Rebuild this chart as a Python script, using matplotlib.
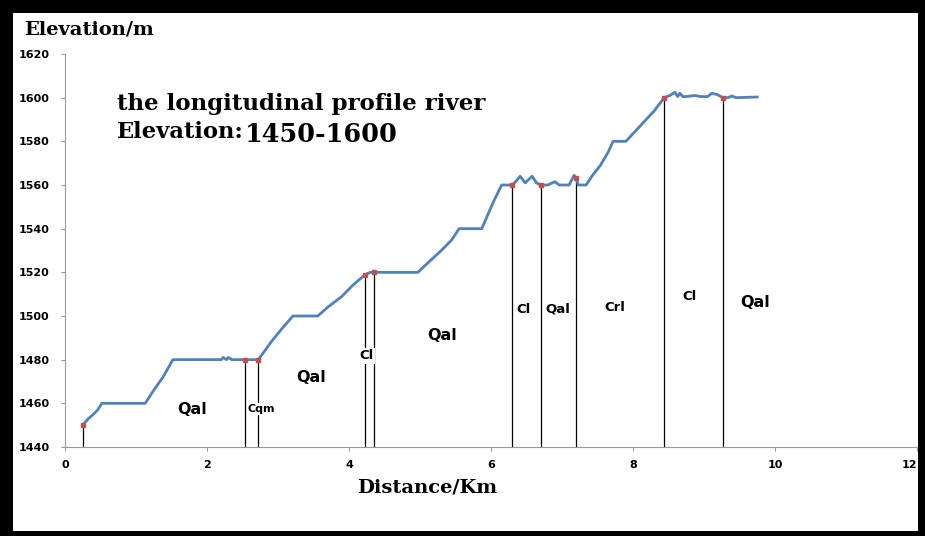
import matplotlib
matplotlib.use("Agg")
import matplotlib.pyplot as plt
from matplotlib.patches import Rectangle

# ---- data ----
distance_km = [0.25, 0.33, 0.40, 0.46, 0.52, 0.80, 1.00, 1.13, 1.25, 1.38, 1.45, 1.52,
               2.00, 2.20, 2.23, 2.27, 2.30, 2.35, 2.54, 2.72, 2.79, 2.90, 3.05, 3.21,
               3.56, 3.70, 3.90, 4.05, 4.23, 4.30, 4.35, 4.97, 5.10, 5.30, 5.45, 5.55,
               5.87, 5.95, 6.03, 6.15, 6.30, 6.36, 6.41, 6.48, 6.58, 6.64, 6.70, 6.80,
               6.90, 6.96, 7.10, 7.17, 7.20, 7.23, 7.34, 7.42, 7.54, 7.65, 7.72, 7.90,
               8.10, 8.30, 8.44, 8.52, 8.59, 8.63, 8.66, 8.70, 8.75, 8.87, 8.95, 9.05,
               9.11, 9.18, 9.27, 9.34, 9.39, 9.45, 9.75]
elevation_m = [1450, 1453, 1455, 1457, 1460, 1460, 1460, 1460, 1466, 1472, 1476, 1480,
               1480, 1480, 1481, 1480, 1481, 1480, 1480, 1480, 1483, 1488, 1494, 1500,
               1500, 1504, 1509, 1514, 1519, 1520, 1520, 1520, 1524, 1530, 1535, 1540,
               1540, 1546, 1552, 1560, 1560, 1562, 1564, 1561, 1564, 1561, 1560, 1560,
               1561.5, 1560, 1560, 1564.5, 1563, 1560, 1560, 1564, 1569, 1575, 1580, 1580,
               1587, 1594, 1600, 1601, 1602.5, 1600.5, 1602, 1600.5, 1600.5, 1601, 1600.5, 1600.5,
               1602, 1601.5, 1600, 1600, 1600.8, 1600, 1600.3]

boundary_km = [0.25, 2.54, 2.72, 4.23, 4.35, 6.30, 6.70, 7.20, 8.44, 9.27]
boundary_elev = [1450, 1480, 1480, 1519, 1520, 1560, 1560, 1563, 1600, 1600]

unit_labels = ["Qal", "Cqm", "Qal", "Cl", "Qal", "Cl", "Qal", "Crl", "Cl", "Qal"]
unit_x = [1.79, 2.77, 3.46, 4.24, 5.31, 6.46, 6.94, 7.75, 8.79, 9.72]
unit_y = [1457.4, 1457.4, 1472, 1481.7, 1491, 1502.8, 1503, 1504, 1509, 1506]
unit_size = [11.5, 8, 11.5, 9.5, 11.5, 9.5, 9.5, 9.5, 9.5, 11.5]

x_ticks = [0, 2, 4, 6, 8, 10, 12]
y_ticks = [1440, 1460, 1480, 1500, 1520, 1540, 1560, 1580, 1600, 1620]

# ---- figure ----
W, H = 925, 536
fig = plt.figure(figsize=(W / 100, H / 100), dpi=100)
fig.patch.set_facecolor("black")
fig.add_artist(Rectangle((13 / W, 1 - 531 / H), (918 - 13) / W, (531 - 13) / H,
                         transform=fig.transFigure, facecolor="white",
                         edgecolor="none", zorder=0))

ax = fig.add_axes([65 / W, 1 - 447 / H, (917 - 65) / W, (447 - 54) / H])
ax.set_facecolor("none")

for xb, yb in zip(boundary_km, boundary_elev):
    ax.plot([xb, xb], [1440, yb], color="black", lw=0.9, zorder=2)

ax.plot(distance_km, elevation_m, color="#4f81bd", lw=2.0, zorder=3,
        solid_joinstyle="round")
ax.plot(boundary_km, boundary_elev, ls="none", marker="s", ms=3.2,
        color="#c0504d", zorder=4)

for lab, xl, yl, s in zip(unit_labels, unit_x, unit_y, unit_size):
    ax.text(xl, yl, lab, ha="center", va="center", fontsize=s,
            fontweight="bold", family="DejaVu Sans", zorder=5,
            bbox=dict(facecolor="white", edgecolor="none", pad=1.0))

ax.set_xlim(0, 12)
ax.set_ylim(1440, 1620)
ax.set_xticks(x_ticks)
ax.set_yticks(y_ticks)
for sp in ["top", "right"]:
    ax.spines[sp].set_visible(False)
for sp in ["left", "bottom"]:
    ax.spines[sp].set_color("#9a9a9a")
    ax.spines[sp].set_linewidth(0.8)
ax.tick_params(axis="both", length=3, color="#9a9a9a", width=0.8)
ax.tick_params(axis="y", pad=8)
ax.tick_params(axis="x", pad=6)
for t in ax.get_xticklabels() + ax.get_yticklabels():
    t.set_fontweight("bold")
    t.set_fontsize(8)
    t.set_family("DejaVu Sans")
ax.get_xticklabels()[-1].set_horizontalalignment("right")

fig.text(24 / W, 1 - 30 / H, "Elevation/m", ha="left", va="center",
         fontsize=14, fontweight="bold", family="DejaVu Serif")
fig.text(427 / W, 1 - 487 / H, "Distance/Km", ha="center", va="center",
         fontsize=14, fontweight="bold", family="DejaVu Serif")
fig.text(117 / W, 1 - 104 / H, "the longitudinal profile river", ha="left",
         va="center", fontsize=16.5, fontweight="bold", family="DejaVu Serif")
fig.text(117 / W, 1 - 132 / H, "Elevation:", ha="left", va="center",
         fontsize=16.3, fontweight="bold", family="DejaVu Serif")
fig.text(245 / W, 1 - 134 / H, "1450-1600", ha="left", va="center",
         fontsize=18.4, fontweight="bold", family="DejaVu Serif")

fig.savefig("out.png", dpi=100, facecolor=fig.get_facecolor())
